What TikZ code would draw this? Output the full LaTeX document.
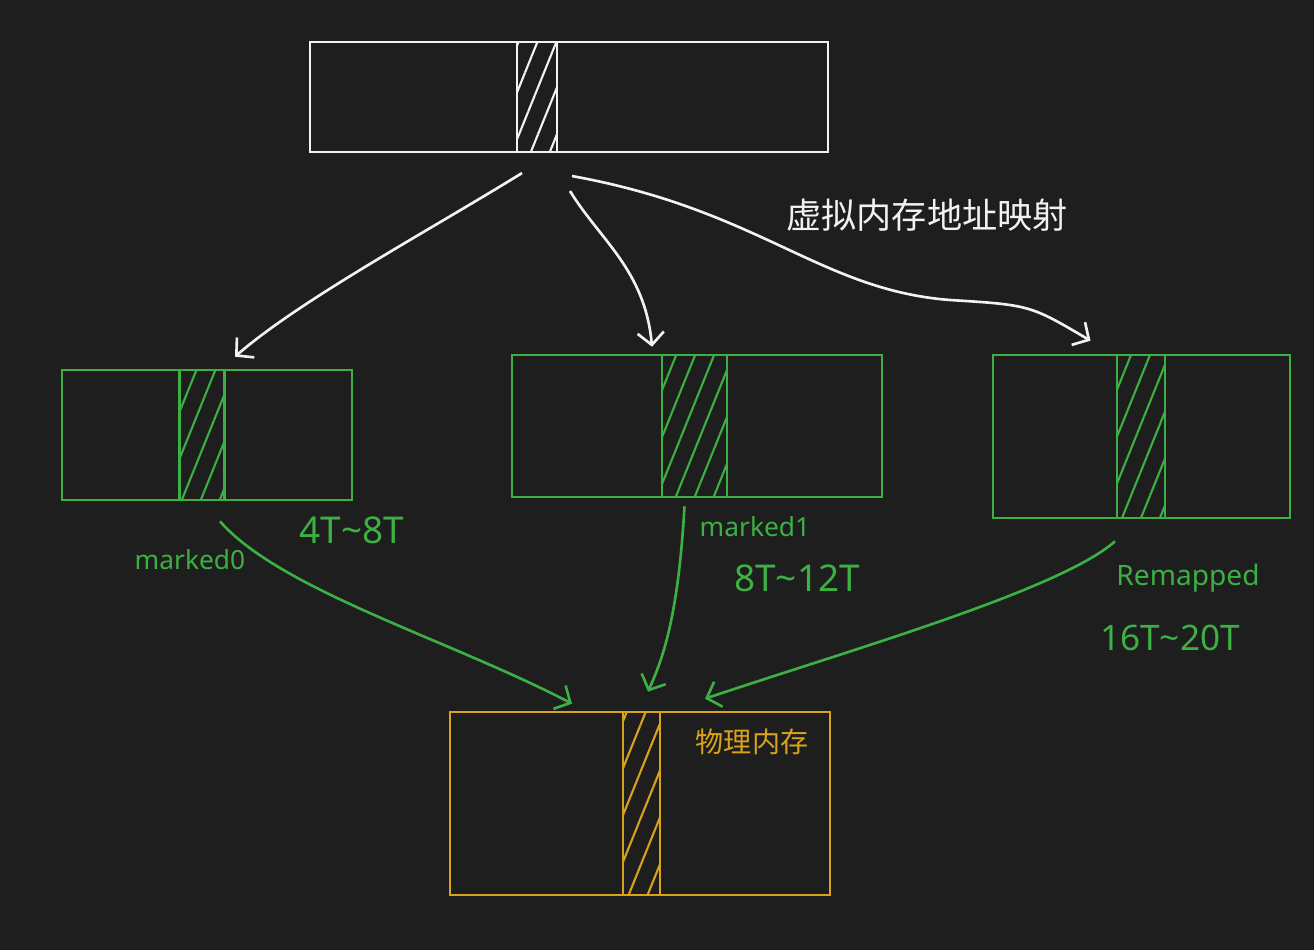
\documentclass[tikz,border=0pt]{standalone}
\usepackage{fontspec}
\setmainfont{Noto Sans}
\newfontfamily\cjk{Noto Sans CJK SC}
\usetikzlibrary{arrows.meta, calc, patterns.meta}
\definecolor{bgcol}{HTML}{1E1E1E}
\definecolor{penwhite}{HTML}{F2F2F2}
\definecolor{pengreen}{HTML}{3CB043}
\definecolor{penyellow}{HTML}{D8A31A}
\tikzstyle{memblock} = [draw, line width=1.5pt, rectangle, inner sep=0pt]
\tikzstyle{hatchcol} = [draw, line width=1.5pt, rectangle, inner sep=0pt, pattern={Lines[angle=68, distance=10pt, line width=1.2pt]}]
\tikzstyle{mapping} = [line width=1.5pt, -{Straight Barb[length=7pt, width=15pt]}]
\tikzstyle{tag} = [font=\fontsize{15}{18}\selectfont, inner sep=0pt]
\tikzstyle{sizetag} = [font=\fontsize{21}{25}\selectfont, inner sep=0pt]

\begin{document}
\begin{tikzpicture}[x=0.02cm, y=-0.02cm]
	\fill[bgcol] (0,0) rectangle (1314,950);
	% virtual address space
	\node[memblock, draw=penwhite, minimum width=10.36cm, minimum height=2.2cm] (virt) at (569,97) {};
	\node[hatchcol, draw=penwhite, pattern color=penwhite, minimum width=0.8cm, minimum height=2.2cm] (virtcol) at (537,97) {};
	\node[tag, text=penwhite, font=\cjk\fontsize{20}{24}\selectfont] (maptitle) at (927,215) {虚拟内存地址映射};
	% three views
	\node[memblock, draw=pengreen, minimum width=5.8cm, minimum height=2.6cm] (mark0) at (207,435) {};
	\node[hatchcol, draw=pengreen, pattern color=pengreen, minimum width=0.9cm, minimum height=2.6cm] (mark0col) at (202,435) {};
	\node[memblock, draw=pengreen, minimum width=7.4cm, minimum height=2.84cm] (mark1) at (697,426) {};
	\node[hatchcol, draw=pengreen, pattern color=pengreen, minimum width=1.3cm, minimum height=2.84cm] (mark1col) at (694.5,426) {};
	\node[memblock, draw=pengreen, minimum width=5.94cm, minimum height=3.26cm] (remap) at (1141.5,436.5) {};
	\node[hatchcol, draw=pengreen, pattern color=pengreen, minimum width=0.96cm, minimum height=3.26cm] (remapcol) at (1141,436.5) {};
	\node[tag, text=pengreen] (mark0name) at (190,560) {marked0};
	\node[sizetag, text=pengreen] (mark0range) at (352,530) {4T\textasciitilde 8T};
	\node[tag, text=pengreen] (mark1name) at (755,527) {marked1};
	\node[sizetag, text=pengreen] (mark1range) at (797,578) {8T\textasciitilde 12T};
	\node[tag, text=pengreen, font=\fontsize{16}{19}\selectfont] (remapname) at (1188,578) {Remapped};
	\node[sizetag, text=pengreen, font=\fontsize{20}{24}\selectfont] (remaprange) at (1170,638) {16T\textasciitilde 20T};
	% physical memory
	\node[memblock, draw=penyellow, minimum width=7.6cm, minimum height=3.66cm] (phys) at (640,803.5) {};
	\node[hatchcol, draw=penyellow, pattern color=penyellow, minimum width=0.74cm, minimum height=3.66cm] (physcol) at (641.5,803.5) {};
	\node[tag, text=penyellow, font=\cjk\fontsize{16}{19}\selectfont] (physname) at (752,742) {物理内存};
	% mappings
	\draw[mapping, penwhite] ($(virtcol.south)+(-15,20)$) .. controls (430,230) and (300,300) .. ($(mark0.north)+(28,-12)$);
	\draw[mapping, penwhite] ($(virtcol.south)+(33,38)$) .. controls (600,240) and (645,270) .. ($(mark1.north)+(-45,-7)$);
	\draw[mapping, penwhite] ($(virtcol.south)+(35,23)$) .. controls (760,210) and (820,290) .. (950,300) .. controls (1030,305) .. ($(remap.north)+(-51,-13)$);
	\draw[mapping, pengreen] ($(mark0col.south)+(18,20)$) .. controls (280,590) and (450,640) .. ($(phys.north)+(-68,-7)$);
	\draw[mapping, pengreen] ($(mark1col.south)+(-10,8)$) .. controls (678,620) and (662,660) .. ($(phys.north)+(8,-19)$);
	\draw[mapping, pengreen] ($(remapcol.south)+(-26,22)$) .. controls (1060,590) and (850,650) .. ($(phys.north)+(65,-12)$);
\end{tikzpicture}
\end{document}
